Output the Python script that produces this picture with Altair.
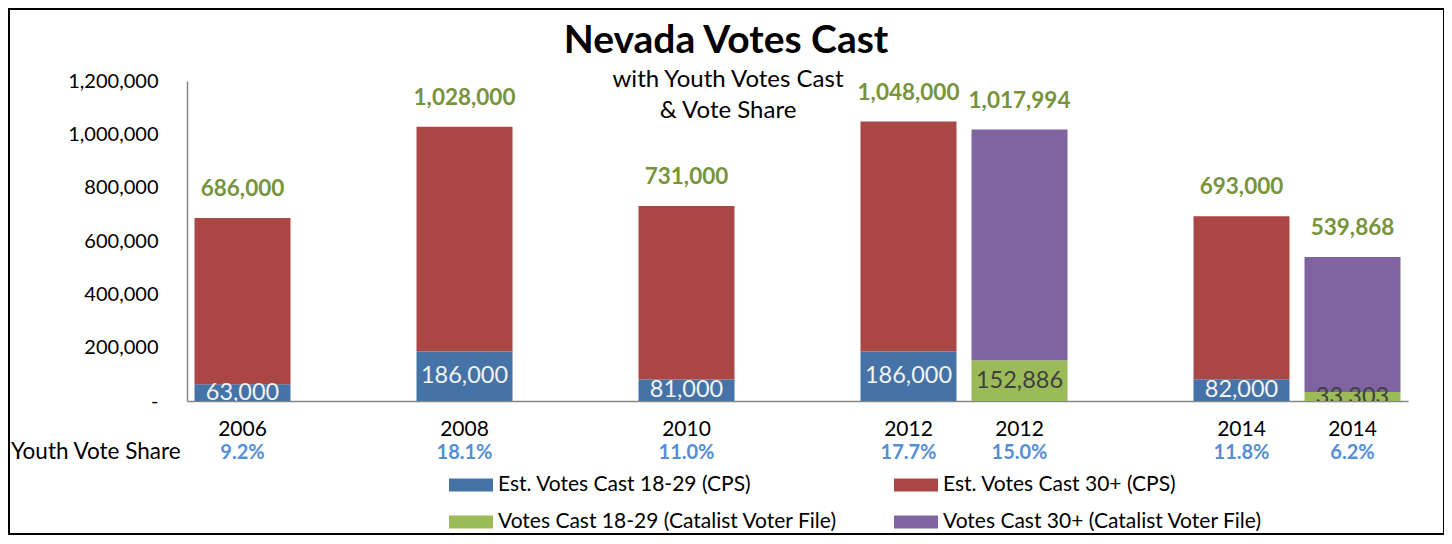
import altair as alt
import pandas as pd

# ---- data ----
slots = ["2006", "g1", "2008", "g2", "2010", "g3", "2012a", "2012b", "g4", "2014a", "2014b"]
bar_slots = ["2006", "2008", "2010", "2012a", "2012b", "2014a", "2014b"]
year_labels = ["2006", "2008", "2010", "2012", "2012", "2014", "2014"]
sources = ["CPS", "CPS", "CPS", "CPS", "Catalist", "CPS", "Catalist"]
youth_votes = [63000, 186000, 81000, 186000, 152886, 82000, 33303]
total_votes = [686000, 1028000, 731000, 1048000, 1017994, 693000, 539868]
youth_share = ["9.2%", "18.1%", "11.0%", "17.7%", "15.0%", "11.8%", "6.2%"]

series_names = [
    "Est. Votes Cast 18-29 (CPS)",
    "Est. Votes Cast 30+ (CPS)",
    "Votes Cast 18-29 (Catalist Voter File)",
    "Votes Cast 30+ (Catalist Voter File)",
]
series_colors = ["#4572A7", "#AA4643", "#9BBB59", "#8064A2"]

y_ticks = [0, 200000, 400000, 600000, 800000, 1000000, 1200000]

TITLE = "Nevada Votes Cast"
SUB1 = "with Youth Votes Cast"
SUB2 = "& Vote Share"
ROW_LABEL = "Youth Vote Share"

FONT = "Lato"

# ---- tables ----
bars = pd.DataFrame({
    "slot": bar_slots, "year": year_labels, "source": sources,
    "youth": youth_votes, "total": total_votes, "share": youth_share,
})

rows = []
for s, src, y, t in zip(bar_slots, sources, youth_votes, total_votes):
    if src == "CPS":
        rows.append({"slot": s, "series": series_names[0], "value": y, "ord": 0})
        rows.append({"slot": s, "series": series_names[1], "value": t - y, "ord": 1})
    else:
        rows.append({"slot": s, "series": series_names[2], "value": y, "ord": 0})
        rows.append({"slot": s, "series": series_names[3], "value": t - y, "ord": 1})
long = pd.DataFrame(rows)

xscale = alt.Scale(domain=slots, paddingInner=0, paddingOuter=0)
yscale = alt.Scale(domain=[0, 1200000], nice=False, zero=True)

x_enc = alt.X("slot:N", scale=xscale,
              axis=alt.Axis(labels=False, ticks=False, title=None, grid=False,
                            domainColor="#868686", domainWidth=1.5))

bar_layer = alt.Chart(long).mark_bar(size=96).encode(
    x=x_enc,
    y=alt.Y("value:Q", stack="zero", scale=yscale,
            axis=alt.Axis(values=y_ticks, title=None, grid=False, ticks=False,
                          labelExpr="datum.value == 0 ? '-\u00a0\u00a0\u00a0' : format(datum.value, ',')",
                          labelFont=FONT, labelFontSize=20, labelColor="#000000",
                          labelPadding=29, domainColor="#868686", domainWidth=1.5)),
    color=alt.Color("series:N",
                    scale=alt.Scale(domain=series_names, range=series_colors),
                    legend=alt.Legend(title=None, orient="none", legendX=262, legendY=382,
                                      direction="horizontal", columns=2,
                                      columnPadding=56, rowPadding=5,
                                      symbolType="M-1,-0.295H1V0.295H-1Z", symbolSize=1936,
                                      symbolStrokeWidth=0, labelOffset=5, labelLimit=0,
                                      labelFont=FONT, labelFontSize=21, labelColor="#000000")),
    order=alt.Order("ord:Q"),
)

total_layer = alt.Chart(bars).mark_text(
    dy=-29, font=FONT, fontSize=22.5, fontWeight="bold", color="#77933C", baseline="middle"
).encode(
    x=alt.X("slot:N", scale=xscale),
    y=alt.Y("total:Q", scale=yscale),
    text=alt.Text("total:Q", format=","),
)

inner_layer = alt.Chart(bars).transform_calculate(
    mid="datum.youth / 2"
).mark_text(font=FONT, fontSize=23.5, baseline="middle", clip=True).encode(
    x=alt.X("slot:N", scale=xscale),
    y=alt.Y("mid:Q", scale=yscale),
    text=alt.Text("youth:Q", format=","),
    color=alt.condition("datum.source == 'CPS'", alt.value("#F2F2F2"), alt.value("#404040")),
)

year_layer = alt.Chart(bars).mark_text(
    dy=29, font=FONT, fontSize=21, color="#000000", baseline="middle"
).encode(
    x=alt.X("slot:N", scale=xscale),
    y=alt.Y(datum=0, type="quantitative", scale=yscale),
    text="year:N",
)

share_layer = alt.Chart(bars).mark_text(
    dy=52, font=FONT, fontSize=20, fontWeight="bold", color="#558ED5", baseline="middle"
).encode(
    x=alt.X("slot:N", scale=xscale),
    y=alt.Y(datum=0, type="quantitative", scale=yscale),
    text="share:N",
)

one = pd.DataFrame({"k": [0]})

row_label = alt.Chart(one).mark_text(
    dy=51, font=FONT, fontSize=22.5, color="#000000", align="left", baseline="middle"
).encode(
    x=alt.value(-176),
    y=alt.Y(datum=0, type="quantitative", scale=yscale),
    text=alt.value(ROW_LABEL),
)

title_layer = alt.Chart(one).mark_text(
    font=FONT, fontSize=39, fontWeight="bold", color="#000000", baseline="middle"
).encode(x=alt.value(539), y=alt.value(-40), text=alt.value(TITLE))

sub1_layer = alt.Chart(one).mark_text(
    font=FONT, fontSize=24, color="#000000", baseline="middle"
).encode(x=alt.value(541), y=alt.value(-1), text=alt.value(SUB1))

sub2_layer = alt.Chart(one).mark_text(
    font=FONT, fontSize=24, color="#000000", baseline="middle"
).encode(x=alt.value(541), y=alt.value(30), text=alt.value(SUB2))

border = alt.Chart(one).mark_rect(
    fillOpacity=0, stroke="#000000", strokeWidth=2
).encode(x=alt.value(-178), x2=alt.value(1257), y=alt.value(-72), y2=alt.value(453))

chart = alt.layer(
    bar_layer, total_layer, inner_layer, year_layer, share_layer,
    row_label, title_layer, sub1_layer, sub2_layer, border,
).properties(
    width=1221, height=320,
    autosize=alt.AutoSizeParams(type="none"),
    padding={"left": 179, "top": 73, "right": 36, "bottom": 135},
    background="#FFFFFF",
).configure_view(stroke=None)

chart.save("out.html", embed_options={"renderer": "svg", "actions": False})
